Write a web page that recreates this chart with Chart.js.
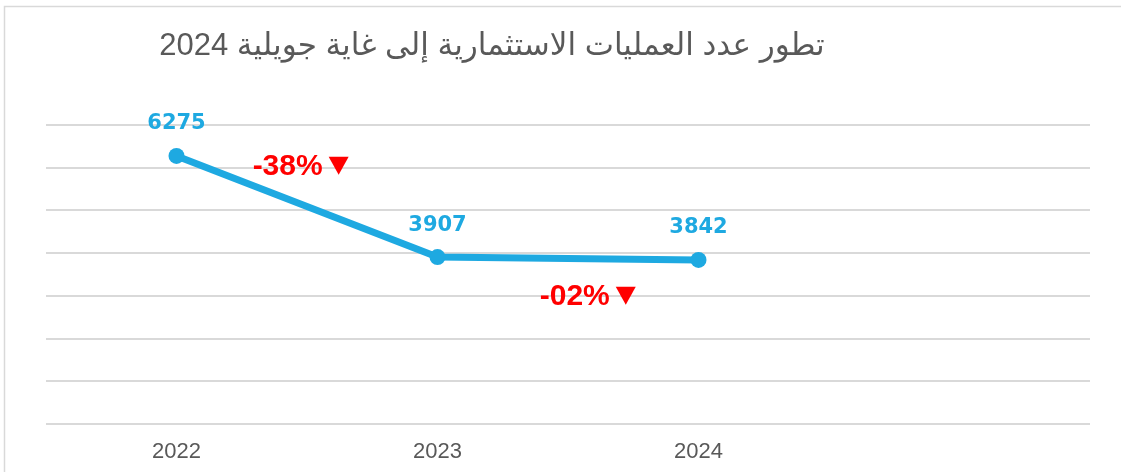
<!DOCTYPE html>
<html>
<head>
<meta charset="utf-8">
<script src="https://cdn.jsdelivr.net/npm/chart.js@4"></script>
<style>
  html, body { margin: 0; padding: 0; background: #fff; }
  #wrap { width: 1121px; height: 472px; position: relative; }
</style>
</head>
<body>
<div id="wrap"><canvas id="opsChart"></canvas></div>

<script>
// chart data
const chartTitle = 'تطور عدد العمليات الاستثمارية إلى غاية جويلية 2024';
const years = ['2022', '2023', '2024', ''];
const operations = [6275, 3907, 3842, null];
// change between consecutive years
const changeLabels = ['-38%', '-02%'];
const changeAt = [0.56, 1.66];     // category position of the label's right edge
const changeValues = [6020, 2980]; // where the label sits on the value axis

const blue = '#1ea9e1';
const red = '#ff0000';

const decorPlugin = {
    id: 'decor',
    beforeDraw(chart) {
        const ctx = chart.ctx;
        ctx.save();
        // light frame on the top and left
        ctx.strokeStyle = '#d9d9d9';
        ctx.lineWidth = 1.5;
        ctx.beginPath();
        ctx.moveTo(4.5, chart.height);
        ctx.lineTo(4.5, 6.5);
        ctx.lineTo(chart.width, 6.5);
        ctx.stroke();
        // title
        ctx.fillStyle = '#595959';
        ctx.font = '31px "Liberation Sans", "DejaVu Sans", sans-serif';
        ctx.textAlign = 'center';
        ctx.textBaseline = 'middle';
        ctx.direction = 'rtl';
        ctx.fillText(chartTitle, 492, 46);
        ctx.restore();
    },
    afterDatasetsDraw(chart) {
        const ctx = chart.ctx;
        const xs = chart.scales.x;
        const ys = chart.scales.y;
        ctx.save();
        // value labels above points
        ctx.fillStyle = blue;
        ctx.font = 'bold 21px "DejaVu Sans", sans-serif';
        ctx.textAlign = 'center';
        ctx.textBaseline = 'middle';
        operations.forEach((v, i) => {
            if (v === null) return;
            ctx.fillText(String(v), xs.getPixelForValue(i), ys.getPixelForValue(v) - 32);
        });
        // change labels between years
        ctx.fillStyle = red;
        ctx.font = 'bold 30px "Liberation Sans", sans-serif';
        ctx.textAlign = 'right';
        changeLabels.forEach((t, i) => {
            const rx = xs.getPixelForValue(changeAt[i]);
            const cy = ys.getPixelForValue(changeValues[i]);
            ctx.fillText(t, rx, cy);
            // down triangle
            const tx = rx + 6;
            ctx.beginPath();
            ctx.moveTo(tx, cy - 10);
            ctx.lineTo(tx + 20, cy - 10);
            ctx.lineTo(tx + 10, cy + 8);
            ctx.closePath();
            ctx.fill();
        });
        ctx.restore();
    }
};

const ctx = document.getElementById('opsChart').getContext('2d');
new Chart(ctx, {
    type: 'line',
    data: {
        labels: years,
        datasets: [{
            data: operations,
            borderColor: blue,
            backgroundColor: blue,
            borderWidth: 7,
            pointRadius: 8,
            pointHoverRadius: 8,
            pointBackgroundColor: blue,
            pointBorderWidth: 0,
            tension: 0
        }]
    },
    options: {
        responsive: true,
        maintainAspectRatio: false,
        animation: false,
        layout: { padding: { left: 46, right: 31, top: 125, bottom: 0 } },
        plugins: {
            legend: { display: false },
            tooltip: { enabled: false },
            title: { display: false }
        },
        scales: {
            x: {
                offset: true,
                grid: { display: false, drawTicks: false },
                border: { display: false },
                ticks: {
                    color: '#595959',
                    font: { family: '"Liberation Sans", sans-serif', size: 22 },
                    padding: 15,
                    maxRotation: 0
                },
                afterFit(scale) { scale.height = 48; }
            },
            y: {
                min: 0,
                max: 7000,
                ticks: { display: false, stepSize: 1000 },
                border: { display: false },
                grid: { color: '#d9d9d9', lineWidth: 2, drawTicks: false }
            }
        }
    },
    plugins: [decorPlugin]
});
</script>
</body>
</html>
